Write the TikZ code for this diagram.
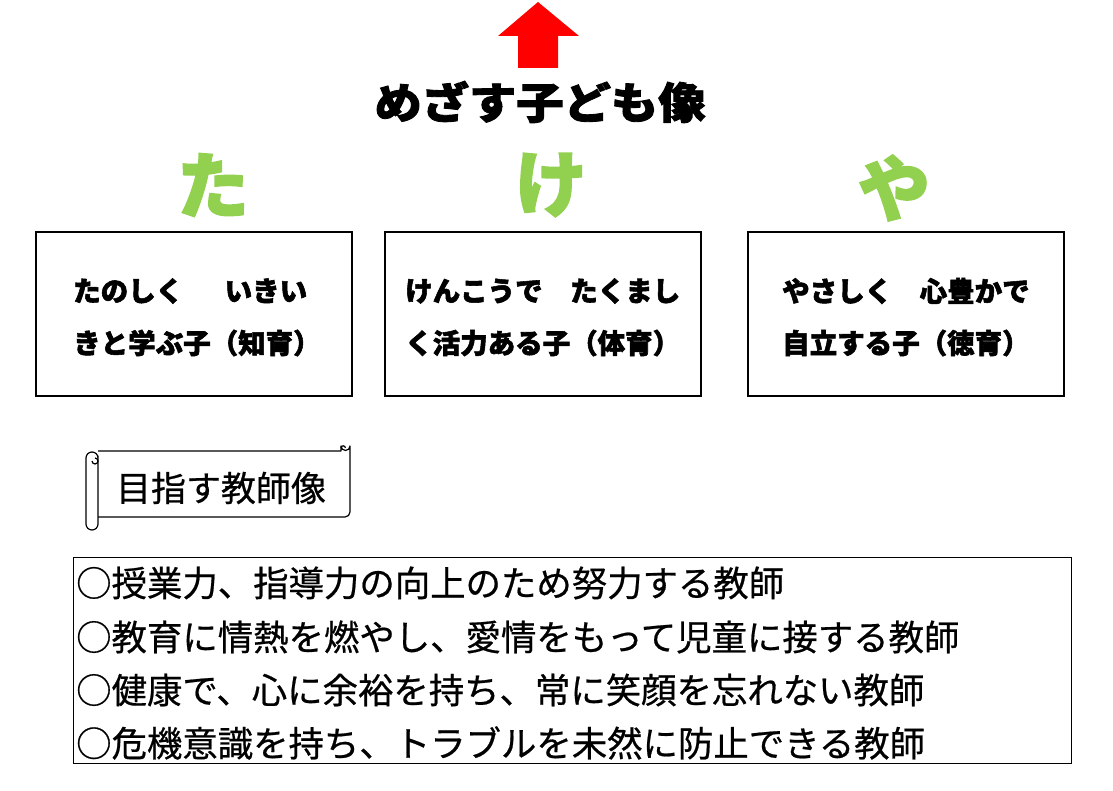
\documentclass[tikz,border=0pt]{standalone}
\usepackage{fontspec}
\newfontfamily\jp{Noto Sans CJK JP}
\newfontfamily\jpb[FakeBold=2]{Noto Sans CJK JP}
\newfontfamily\jpm[FakeBold=0.6]{Noto Sans CJK JP}
\definecolor{leafgreen}{HTML}{92D050}
\tikzset{
  titletext/.style={inner sep=0pt, font=\jpb\bfseries\fontsize{43pt}{43pt}\selectfont},
  bigkana/.style={inner sep=0pt, text=leafgreen, font=\jpb\bfseries\fontsize{72pt}{72pt}\selectfont},
  goalbox/.style={draw, line width=1.6pt, minimum width=316pt, minimum height=164pt, inner sep=0pt},
  boxtext/.style={inner sep=0pt, anchor=west, font=\jpb\bfseries\fontsize{27.5pt}{27.5pt}\selectfont},
  scrolltext/.style={inner sep=0pt, font=\jpm\fontsize{35pt}{35pt}\selectfont},
  listbox/.style={draw, line width=0.8pt, minimum width=998pt, minimum height=206pt, inner sep=0pt},
  listtext/.style={inner sep=0pt, anchor=west, font=\jpm\fontsize{35.4pt}{35.4pt}\selectfont},
  scrollline/.style={line width=1.2pt, line join=round}
}
\begin{document}
\begin{tikzpicture}[x=1pt,y=-1pt]
\useasboundingbox (0,0) rectangle (1113,791);
\fill[white] (0,0) rectangle (1113,791);
% red arrow
\fill[red] (538,2) -- (579,36) -- (558,36) -- (558,68) -- (518,68) -- (518,36) -- (498,36) -- cycle;
% title
\node[titletext] (title) at (540,102) {\scalebox{1.1}[1]{めざす子ども像}};
% big kana
\node[bigkana] (ta) at (213,185) {た};
\node[bigkana] (ke) at (551,185) {け};
\node[bigkana] (ya) at (894,188) {や};
% goal boxes
\node[goalbox] (b1) at (194,314) {};
\node[goalbox] (b2) at (543,314) {};
\node[goalbox] (b3) at (906,314) {};
\node[boxtext] (b1a) at (73,291) {たのしく　\hspace{14pt}いきい};
\node[boxtext] (b1b) at (73,343) {きと学ぶ子（知育）};
\node[boxtext] (b2a) at (405,291) {けんこうで　たくまし};
\node[boxtext] (b2b) at (405,343) {く活力ある子（体育）};
\node[boxtext] (b3a) at (782,291) {やさしく　心豊かで};
\node[boxtext] (b3b) at (782,343) {自立する子（徳育）};
% scroll
\draw[scrollline, fill=white] (98,451) -- (341,451) -- (341,446) arc[start angle=180, end angle=0, radius=4.5] -- (350,512) arc[start angle=0, end angle=90, radius=5] -- (98,517);
\draw[scrollline] (341,448) arc[start angle=180, end angle=360, radius=2.2];
\draw[scrollline, fill=white] (98,456) -- (98,524) arc[start angle=0, end angle=180, radius=6] -- (86,458) arc[start angle=180, end angle=360, radius=6] -- cycle;
\draw[scrollline] (92,461) arc[start angle=180, end angle=-90, radius=3];
\node[scrolltext] (scroll) at (221,488) {目指す教師像};
% list box
\node[listbox] (list) at (572,660) {};
\node[listtext] (l1) at (76,583) {○授業力、指導力の向上のため努力する教師};
\node[listtext] (l2) at (76,637) {○教育に情熱を燃やし、愛情をもって児童に接する教師};
\node[listtext] (l3) at (76,690) {○健康で、心に余裕を持ち、常に笑顔を忘れない教師};
\node[listtext] (l4) at (76,743) {○危機意識を持ち、トラブルを未然に防止できる教師};
\end{tikzpicture}
\end{document}
